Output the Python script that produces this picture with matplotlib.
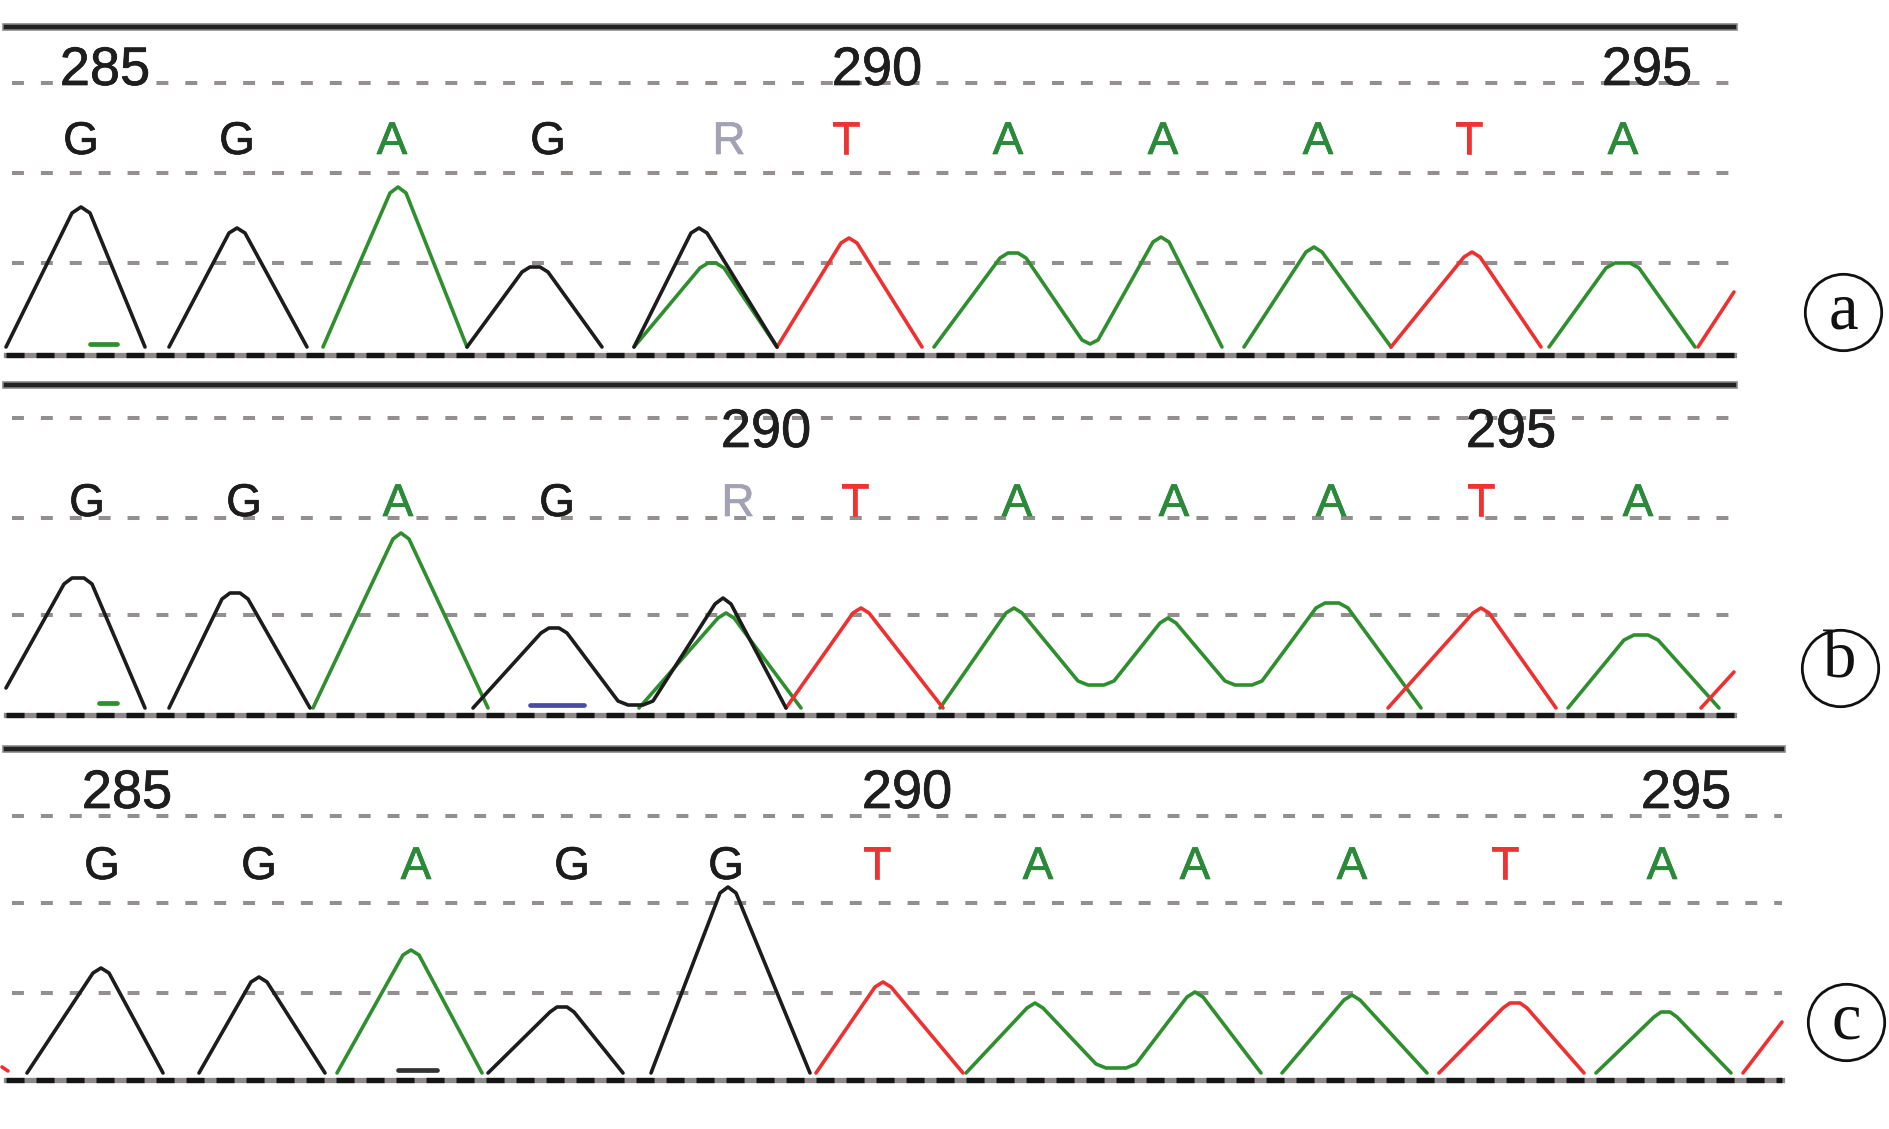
import matplotlib
matplotlib.use("Agg")
import matplotlib.pyplot as plt
import matplotlib.patheffects as pe

plt.rcParams['lines.scale_dashes'] = False
plt.rcParams['font.family'] = ['Liberation Sans', 'DejaVu Sans']

# ---------------- data (x = trace position, y = signal above trace baseline) -------------
# Panel a
A_BASES = ['G', 'G', 'A', 'G', 'R', 'T', 'A', 'A', 'A', 'T', 'A']
A_BASE_X = [81, 237, 392, 548, 729, 846, 1008, 1163, 1318, 1469, 1623]
A_NUMS = ['285', '290', '295']
A_NUM_X = [105, 877, 1647]
A_BLACK_X = [[6, 72, 81, 90, 145], [169, 229, 237, 245, 307],
             [467, 522, 530, 540, 548, 602], [634, 691, 699, 707, 777]]
A_BLACK_Y = [[0, 134, 140, 134, 0], [0, 114, 119, 114, 0],
             [0, 75, 80, 80, 75, 0], [0, 114, 119, 114, 0]]
A_GREEN_X = [[323, 390, 398, 406, 467], [634, 700, 708, 716, 724, 777],
             [934, 1000, 1008, 1018, 1026, 1082, 1090, 1098, 1153, 1161, 1169, 1222],
             [1244, 1306, 1314, 1322, 1391], [1549, 1606, 1615, 1630, 1639, 1695]]
A_GREEN_Y = [[0, 154, 160, 154, 0], [0, 79, 84, 84, 79, 0],
             [0, 89, 94, 94, 89, 7, 3, 7, 105, 110, 105, 0],
             [0, 95, 100, 95, 0], [0, 79, 84, 84, 79, 0]]
A_RED_X = [[777, 841, 849, 857, 922], [1391, 1464, 1472, 1480, 1541], [1698, 1734]]
A_RED_Y = [[0, 104, 109, 104, 0], [0, 90, 95, 90, 0], [0, 55]]
A_MARK_X = [90, 117]
A_MARK_Y = [3, 3]

# Panel b
B_BASES = ['G', 'G', 'A', 'G', 'R', 'T', 'A', 'A', 'A', 'T', 'A']
B_BASE_X = [87, 244, 398, 557, 738, 855, 1017, 1174, 1331, 1481, 1638]
B_NUMS = ['290', '295']
B_NUM_X = [766, 1511]
B_BLACK_X = [[6, 64, 72, 84, 92, 145], [169, 222, 230, 240, 248, 310],
             [473, 541, 549, 559, 567, 618, 628, 643, 653, 715, 723, 731, 786]]
B_BLACK_Y = [[20, 124, 130, 130, 124, 0], [0, 109, 115, 115, 109, 0],
             [0, 75, 80, 80, 75, 7, 3, 3, 7, 104, 110, 104, 0]]
B_GREEN_X = [[313, 393, 401, 409, 488], [639, 718, 726, 734, 801],
             [940, 1006, 1014, 1022, 1078, 1088, 1104, 1114, 1160, 1168, 1176,
              1225, 1235, 1252, 1262, 1316, 1325, 1339, 1348, 1421],
             [1568, 1624, 1634, 1648, 1658, 1719]]
B_GREEN_Y = [[0, 169, 175, 169, 0], [0, 90, 95, 90, 0],
             [0, 95, 100, 95, 27, 23, 23, 27, 85, 90, 85,
              27, 23, 23, 27, 100, 105, 105, 100, 0],
             [0, 68, 73, 73, 68, 0]]
B_RED_X = [[786, 853, 861, 869, 943], [1388, 1473, 1481, 1489, 1556], [1701, 1734]]
B_RED_Y = [[0, 95, 100, 95, 0], [0, 95, 100, 95, 0], [0, 36]]
B_MARK1_X = [99, 117]
B_MARK1_Y = [5, 5]
B_MARK2_X = [530, 584]
B_MARK2_Y = [3, 3]

# Panel c
C_BASES = ['G', 'G', 'A', 'G', 'G', 'T', 'A', 'A', 'A', 'T', 'A']
C_BASE_X = [102, 259, 416, 572, 726, 877, 1038, 1195, 1352, 1505, 1662]
C_NUMS = ['285', '290', '295']
C_NUM_X = [127, 907, 1686]
C_BLACK_X = [[27, 93, 101, 109, 163], [199, 251, 259, 267, 325],
             [488, 550, 557, 567, 574, 623], [651, 720, 728, 736, 810]]
C_BLACK_Y = [[0, 100, 105, 100, 0], [0, 91, 96, 91, 0],
             [0, 61, 66, 66, 61, 0], [0, 180, 186, 180, 0]]
C_GREEN_X = [[337, 403, 411, 419, 482],
             [966, 1027, 1035, 1043, 1096, 1106, 1126, 1136, 1187, 1195, 1203, 1261],
             [1282, 1344, 1352, 1360, 1427], [1596, 1654, 1661, 1670, 1677, 1731]]
C_GREEN_Y = [[0, 118, 123, 118, 0],
             [0, 65, 70, 65, 9, 5, 5, 9, 76, 81, 76, 0],
             [0, 73, 78, 73, 0], [0, 56, 61, 61, 56, 0]]
C_RED_X = [[2, 8], [816, 875, 883, 891, 963], [1439, 1503, 1510, 1520, 1527, 1584],
           [1743, 1782]]
C_RED_Y = [[6, 2], [0, 86, 91, 86, 0], [0, 65, 70, 70, 65, 0], [0, 51]]
C_MARK_X = [398, 437]
C_MARK_Y = [3, 3]

PANEL_LABELS = ['a', 'b', 'c']

# ---------------- layout / style ----------------
FIG_W, FIG_H = 1890, 1129
BLACK = '#1c1c1c'
GREEN = '#2f8f2f'
RED = '#ee3030'
GRID_C = '#948f8f'
BASE_COLORS = {'G': '#1c1c1c', 'A': '#2a8a3a', 'T': '#ee3333', 'R': '#a2a2b4'}

fig = plt.figure(figsize=(FIG_W / 100, FIG_H / 100), dpi=100)

panels = [
    dict(top=0, bot=370, base=347, x1=1734, grid=[84, 174, 264], floor=-8, roof=320,
         num_y=262, base_y=193, lab_x=1843, lab_y=35,
         bases=A_BASES, base_x=A_BASE_X, nums=A_NUMS, num_x=A_NUM_X,
         black=(A_BLACK_X, A_BLACK_Y), green=(A_GREEN_X, A_GREEN_Y), red=(A_RED_X, A_RED_Y),
         marks=[(A_MARK_X, A_MARK_Y, GREEN)]),
    dict(top=370, bot=740, base=708, x1=1734, grid=[93, 190, 290], floor=-7, roof=323,
         num_y=261, base_y=192, lab_x=1840, lab_y=40,
         bases=B_BASES, base_x=B_BASE_X, nums=B_NUMS, num_x=B_NUM_X,
         black=(B_BLACK_X, B_BLACK_Y), green=(B_GREEN_X, B_GREEN_Y), red=(B_RED_X, B_RED_Y),
         marks=[(B_MARK1_X, B_MARK1_Y, GREEN), (B_MARK2_X, B_MARK2_Y, '#4a4aa8')]),
    dict(top=740, bot=1129, base=1073, x1=1782, grid=[80, 170, 257], floor=-7, roof=324,
         num_y=265, base_y=194, lab_x=1846, lab_y=51,
         bases=C_BASES, base_x=C_BASE_X, nums=C_NUMS, num_x=C_NUM_X,
         black=(C_BLACK_X, C_BLACK_Y), green=(C_GREEN_X, C_GREEN_Y), red=(C_RED_X, C_RED_Y),
         marks=[(C_MARK_X, C_MARK_Y, '#333333')]),
]

for p, lab in zip(panels, PANEL_LABELS):
    ax = fig.add_axes([0, 1 - p['bot'] / FIG_H, 1, (p['bot'] - p['top']) / FIG_H])
    ax.set_xlim(0, FIG_W)
    ax.set_ylim(p['base'] - p['bot'], p['base'] - p['top'])
    ax.axis('off')
    x0, x1 = 6, p['x1']
    # dashed grid
    for g in p['grid']:
        ax.plot([x0 + 6, x1], [g, g], color=GRID_C, lw=2.9, dashes=(8.6, 12.2),
                dash_capstyle='butt', zorder=1)
    # baseline
    ax.plot([x0, x1], [p['floor'], p['floor']], color='#8e8a8a', lw=3.8, zorder=1)
    ax.plot([x0, x1], [p['floor'], p['floor']], color='#151515', lw=3.8,
            dashes=(13, 8.6), dash_capstyle='butt', zorder=1.5)
    # top rule
    ax.plot([x0, x1], [p['roof'], p['roof']], color='#8a8a8a', lw=5.5, zorder=1)
    ax.plot([x0, x1], [p['roof'], p['roof']], color='#222222', lw=3.2, zorder=1.5)
    # traces
    for (xs_l, ys_l), col in ((p['green'], GREEN), (p['red'], RED), (p['black'], BLACK)):
        for xs, ys in zip(xs_l, ys_l):
            ax.plot(xs, ys, color=col, lw=2.6, solid_joinstyle='round',
                    solid_capstyle='round', zorder=3)
    for mx, my, mc in p['marks']:
        ax.plot(mx, my, color=mc, lw=3.4, solid_capstyle='round', zorder=3)
    # text
    for t, xx in zip(p['nums'], p['num_x']):
        ax.text(xx, p['num_y'], t, fontsize=39, color='#1e1e1e', ha='center',
                va='baseline', zorder=4,
                path_effects=[pe.withStroke(linewidth=0.5, foreground='#1e1e1e')])
    for t, xx in zip(p['bases'], p['base_x']):
        c = BASE_COLORS[t]
        ax.text(xx, p['base_y'], t, fontsize=33, color=c, ha='center',
                va='baseline', zorder=4,
                path_effects=[pe.withStroke(linewidth=0.5, foreground=c)])
    ax.plot([p['lab_x']], [p['lab_y']], 'o', ms=55, mfc='none', mec='#111111', mew=2.0,
            zorder=4, clip_on=False)
    ax.text(p['lab_x'], p['lab_y'] + (7 if lab == 'b' else 0), lab, fontsize=48,
            family=['Liberation Serif', 'DejaVu Serif'], ha='center', va='center',
            color='#111111', zorder=5)

fig.savefig('out.png', dpi=100, facecolor='white')
